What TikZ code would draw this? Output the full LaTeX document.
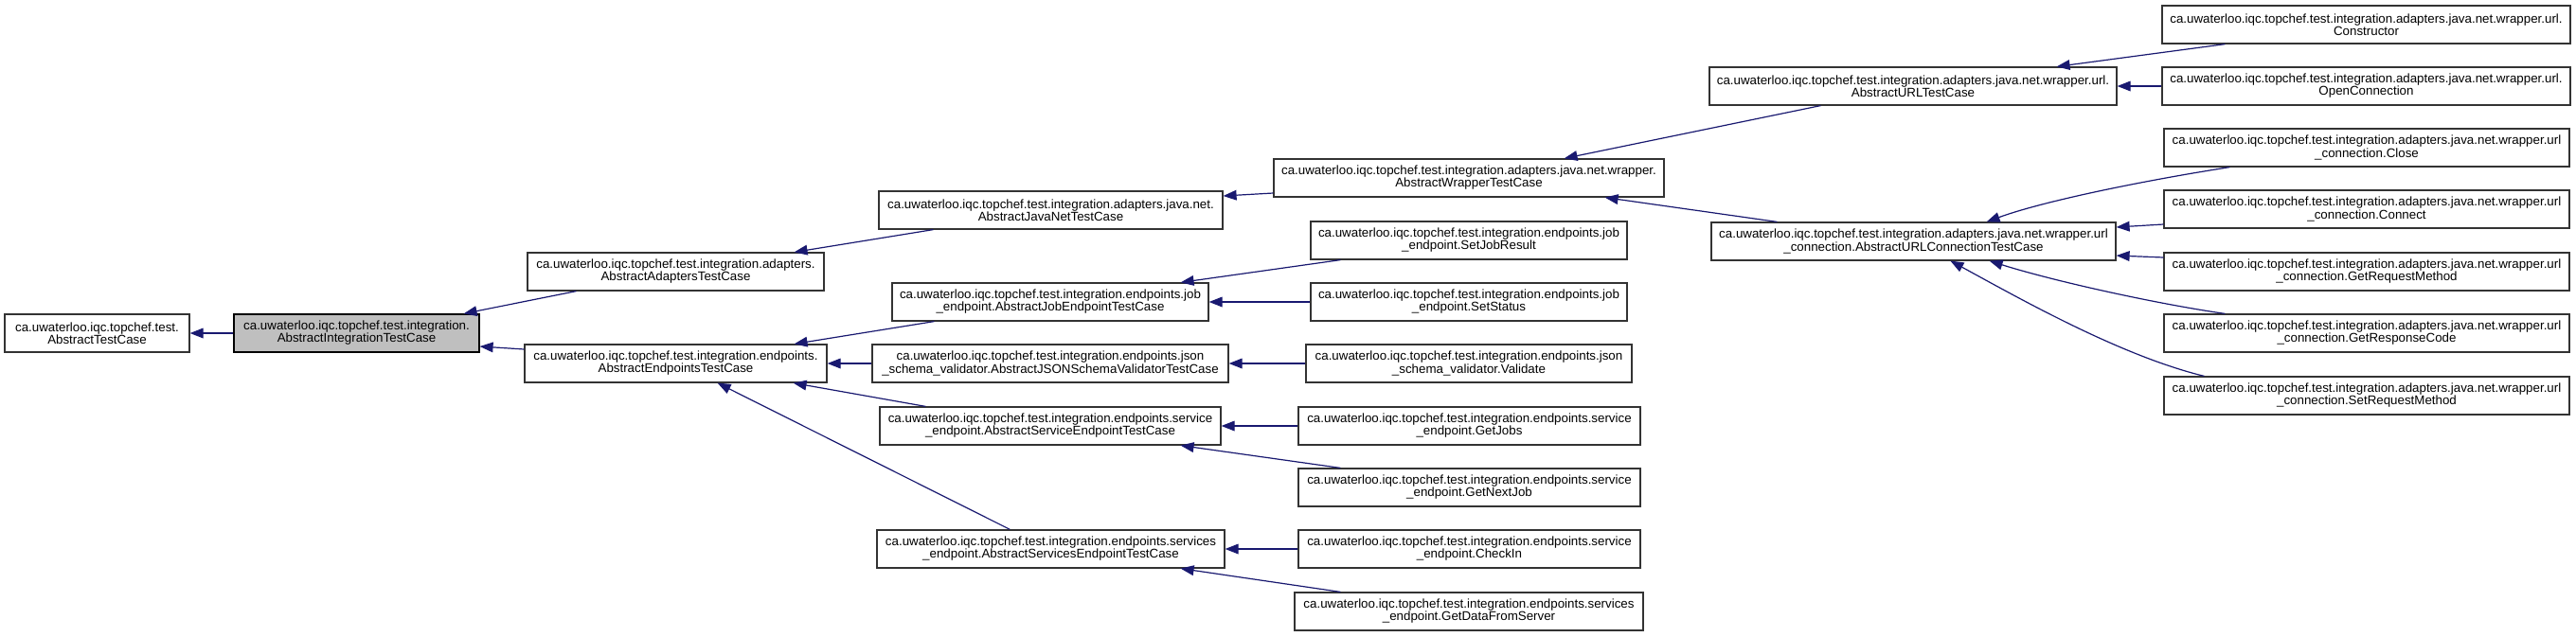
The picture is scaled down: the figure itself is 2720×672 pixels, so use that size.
\documentclass[tikz,border=0pt]{standalone}
\usepackage{fontspec}
\setmainfont{Liberation Sans}
\usetikzlibrary{arrows.meta,calc}
\definecolor{edgeblue}{HTML}{191970}
\definecolor{boxgrey}{HTML}{BFBFBF}

\begin{document}
\begin{tikzpicture}[x=0.75pt,y=-0.75pt,
        cls/.style={draw=black!80,line width=0.9pt,fill=white,rectangle,inner sep=0pt,minimum height=30pt,align=center,font=\fontsize{10}{9.8}\selectfont},
        inh/.style={draw=edgeblue,line width=0.9pt,{Triangle[length=10.5pt,width=8pt]}-}]
        \useasboundingbox (0,0) rectangle (2720,672);
        \node[cls,minimum width=146.25pt] (testcase) at (102.5,352) {ca.uwaterloo.iqc.topchef.test.\\AbstractTestCase};
        \node[cls,fill=boxgrey,draw=black,minimum width=194.25pt] (integration) at (376.5,352) {ca.uwaterloo.iqc.topchef.test.integration.\\AbstractIntegrationTestCase};
        \node[cls,minimum width=234.75pt] (adapters) at (713.5,287) {ca.uwaterloo.iqc.topchef.test.integration.adapters.\\AbstractAdaptersTestCase};
        \node[cls,minimum width=239.25pt] (endpoints) at (713.5,384) {ca.uwaterloo.iqc.topchef.test.integration.endpoints.\\AbstractEndpointsTestCase};
        \node[cls,minimum width=272.25pt] (javanet) at (1109.5,222) {ca.uwaterloo.iqc.topchef.test.integration.adapters.java.net.\\AbstractJavaNetTestCase};
        \node[cls,minimum width=250.5pt] (jobendpoint) at (1109,319) {ca.uwaterloo.iqc.topchef.test.integration.endpoints.job\\\_endpoint.AbstractJobEndpointTestCase};
        \node[cls,minimum width=282pt] (jsonschema) at (1109,384) {ca.uwaterloo.iqc.topchef.test.integration.endpoints.json\\\_schema\_validator.AbstractJSONSchemaValidatorTestCase};
        \node[cls,minimum width=270pt] (serviceendpoint) at (1109,450) {ca.uwaterloo.iqc.topchef.test.integration.endpoints.service\\\_endpoint.AbstractServiceEndpointTestCase};
        \node[cls,minimum width=275.25pt] (servicesendpoint) at (1109.5,580) {ca.uwaterloo.iqc.topchef.test.integration.endpoints.services\\\_endpoint.AbstractServicesEndpointTestCase};
        \node[cls,minimum width=309pt] (wrapper) at (1551,188) {ca.uwaterloo.iqc.topchef.test.integration.adapters.java.net.wrapper.\\AbstractWrapperTestCase};
        \node[cls,minimum width=250.5pt] (setjobresult) at (1551,254) {ca.uwaterloo.iqc.topchef.test.integration.endpoints.job\\\_endpoint.SetJobResult};
        \node[cls,minimum width=250.5pt] (setstatus) at (1551,319) {ca.uwaterloo.iqc.topchef.test.integration.endpoints.job\\\_endpoint.SetStatus};
        \node[cls,minimum width=258pt] (validate) at (1551,384) {ca.uwaterloo.iqc.topchef.test.integration.endpoints.json\\\_schema\_validator.Validate};
        \node[cls,minimum width=270.75pt] (getjobs) at (1551.5,450) {ca.uwaterloo.iqc.topchef.test.integration.endpoints.service\\\_endpoint.GetJobs};
        \node[cls,minimum width=270.75pt] (getnextjob) at (1551.5,515) {ca.uwaterloo.iqc.topchef.test.integration.endpoints.service\\\_endpoint.GetNextJob};
        \node[cls,minimum width=270.75pt] (checkin) at (1551.5,580) {ca.uwaterloo.iqc.topchef.test.integration.endpoints.service\\\_endpoint.CheckIn};
        \node[cls,minimum width=276pt] (getdata) at (1551,646) {ca.uwaterloo.iqc.topchef.test.integration.endpoints.services\\\_endpoint.GetDataFromServer};
        \node[cls,minimum width=322.5pt] (urltest) at (2020,91) {ca.uwaterloo.iqc.topchef.test.integration.adapters.java.net.wrapper.url.\\AbstractURLTestCase};
        \node[cls,minimum width=320.25pt] (urlconnection) at (2020.5,255) {ca.uwaterloo.iqc.topchef.test.integration.adapters.java.net.wrapper.url\\\_connection.AbstractURLConnectionTestCase};
        \node[cls,minimum width=323.25pt] (constructor) at (2498.5,26) {ca.uwaterloo.iqc.topchef.test.integration.adapters.java.net.wrapper.url.\\Constructor};
        \node[cls,minimum width=323.25pt] (openconnection) at (2498.5,91) {ca.uwaterloo.iqc.topchef.test.integration.adapters.java.net.wrapper.url.\\OpenConnection};
        \node[cls,minimum width=321pt] (close) at (2499,156) {ca.uwaterloo.iqc.topchef.test.integration.adapters.java.net.wrapper.url\\\_connection.Close};
        \node[cls,minimum width=321pt] (connect) at (2499,221) {ca.uwaterloo.iqc.topchef.test.integration.adapters.java.net.wrapper.url\\\_connection.Connect};
        \node[cls,minimum width=321pt] (getrequestmethod) at (2499,287) {ca.uwaterloo.iqc.topchef.test.integration.adapters.java.net.wrapper.url\\\_connection.GetRequestMethod};
        \node[cls,minimum width=321pt] (getresponsecode) at (2499,352) {ca.uwaterloo.iqc.topchef.test.integration.adapters.java.net.wrapper.url\\\_connection.GetResponseCode};
        \node[cls,minimum width=321pt] (setrequestmethod) at (2499,418) {ca.uwaterloo.iqc.topchef.test.integration.adapters.java.net.wrapper.url\\\_connection.SetRequestMethod};
        \draw[inh] (testcase) -- (integration);
        \draw[inh] ($(integration.north east)+(-17,0)$) -- ($(adapters.south west)+(52,0)$);
        \draw[inh] ($(integration.east)+(0,14)$) -- ($(endpoints.west)+(0,-15)$);
        \draw[inh] ($(adapters.north east)+(-32,0)$) -- ($(javanet.south west)+(58,0)$);
        \draw[inh] ($(javanet.east)+(0,-15)$) -- ($(wrapper.west)+(0,16)$);
        \draw[inh] ($(wrapper.north east)+(-106,0)$) -- ($(urltest.south west)+(118,0)$);
        \draw[inh] ($(wrapper.south east)+(-63,0)$) -- ($(urlconnection.north west)+(70,0)$);
        \draw[inh] ($(urltest.north east)+(-64,0)$) -- ($(constructor.south west)+(67,0)$);
        \draw[inh] (urltest) -- (openconnection);
        \draw[inh] ($(urlconnection.north east)+(-137,0)$) .. controls +(60,-22) and +(-90,14) .. ($(close.south west)+(70,0)$);
        \draw[inh] ($(urlconnection.east)+(0,-15)$) -- ($(connect.west)+(0,16)$);
        \draw[inh] ($(urlconnection.east)+(0,15)$) -- ($(getrequestmethod.west)+(0,-15)$);
        \draw[inh] ($(urlconnection.south east)+(-134,0)$) .. controls +(70,22) and +(-70,-10) .. ($(getresponsecode.north west)+(65,0)$);
        \draw[inh] ($(urlconnection.south west)+(253,0)$) .. controls +(70,38) and +(-90,-22) .. ($(setrequestmethod.north west)+(43,0)$);
        \draw[inh] ($(endpoints.north east)+(-35,0)$) -- ($(jobendpoint.south west)+(45,0)$);
        \draw[inh] (endpoints) -- (jsonschema);
        \draw[inh] ($(endpoints.south east)+(-36,0)$) -- ($(serviceendpoint.north west)+(49,0)$);
        \draw[inh] ($(endpoints.south east)+(-116,0)$) -- ($(servicesendpoint.north west)+(141,0)$);
        \draw[inh] ($(jobendpoint.north east)+(-30,0)$) -- ($(setjobresult.south west)+(32,0)$);
        \draw[inh] (jobendpoint) -- (setstatus);
        \draw[inh] (jsonschema) -- (validate);
        \draw[inh] (serviceendpoint) -- (getjobs);
        \draw[inh] ($(serviceendpoint.south east)+(-43,0)$) -- ($(getnextjob.north west)+(45,0)$);
        \draw[inh] (servicesendpoint) -- (checkin);
        \draw[inh] ($(servicesendpoint.south east)+(-47,0)$) -- ($(getdata.north west)+(49,0)$);
\end{tikzpicture}
\end{document}
